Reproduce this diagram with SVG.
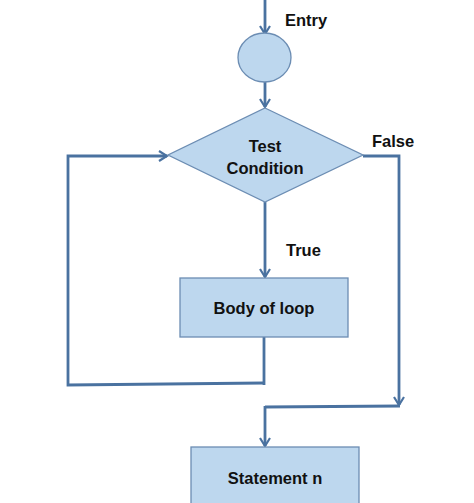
<svg xmlns="http://www.w3.org/2000/svg" width="474" height="503" viewBox="0 0 474 503">
<defs>
<marker id="arr" viewBox="0 0 12 12" refX="10" refY="6" markerWidth="12" markerHeight="12" markerUnits="userSpaceOnUse" orient="auto">
<path d="M2,1 L10,6 L2,11" fill="none" stroke="#4a72a0" stroke-width="2.2"/>
</marker>
<style>
.shape{fill:#bdd7ee;stroke:#6c8db3;stroke-width:1.3}
.con{fill:none;stroke:#4a72a0;stroke-width:2.8}
.t{font-family:"Liberation Sans",Arial,sans-serif;font-weight:bold;font-size:16.5px;fill:#111}
</style>
</defs>
<rect width="474" height="503" fill="#fff"/>
<g id="connectors">
<path class="con" d="M265,0 L265,34" marker-end="url(#arr)"/>
<path class="con" d="M265,82 L265,107" marker-end="url(#arr)"/>
<path class="con" d="M265,202 L265,277" marker-end="url(#arr)"/>
<path class="con" d="M264,337 L264,385"/>
<path class="con" d="M264,383 L68,385 L68,156 L167,156" marker-end="url(#arr)"/>
<path class="con" d="M363,156 L399,156 L399,405" marker-end="url(#arr)"/>
<path class="con" d="M400,406 L265,407"/>
<path class="con" d="M265,406 L265,446" marker-end="url(#arr)"/>
</g>
<g id="entry">
<ellipse class="shape" cx="264.5" cy="57.5" rx="26.5" ry="24.5"/>
<text class="t" x="285" y="26">Entry</text>
</g>
<g id="test">
<polygon class="shape" points="265,108 363,155 265,202 168,155"/>
<text class="t" x="265" y="152" text-anchor="middle">Test</text>
<text class="t" x="265" y="174" text-anchor="middle">Condition</text>
</g>
<g id="labels">
<text class="t" x="372" y="147">False</text>
<text class="t" x="286" y="256">True</text>
</g>
<g id="body">
<rect class="shape" x="180" y="278" width="168" height="59"/>
<text class="t" x="264" y="314" text-anchor="middle">Body of loop</text>
</g>
<g id="statement">
<rect class="shape" x="191" y="447" width="168" height="70"/>
<text class="t" x="275" y="484" text-anchor="middle">Statement n</text>
</g>
</svg>
